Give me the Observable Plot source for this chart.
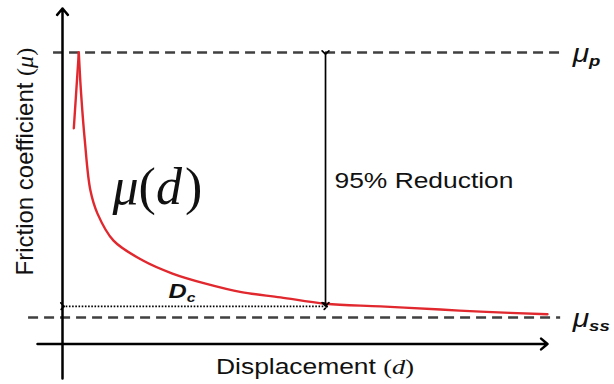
<!DOCTYPE html>
<html>
<head>
<meta charset="utf-8">
<script src="https://cdn.jsdelivr.net/npm/d3@7"></script>
<script src="https://cdn.jsdelivr.net/npm/@observablehq/plot@0.6"></script>
<style>
  body { margin: 0; background: #fff; }
  #chart svg { display: block; }
</style>
</head>
<body>
<div id="chart"></div>
<script>
// Friction levels: peak (μp) and steady state (μss)
const levelNames = ["μp", "μss"];
const levelMu = [0.8, 0.3];
const levelStartD = [-0.034, -0.129];
const levelEndD = 1.894;

// Weakening: 95% of the drop from μp to μss is reached at d = Dc
const reduction = 0.95;
const dc = 1.0;
const muAtDc = levelMu[0] - reduction * (levelMu[0] - levelMu[1]);
const dcLineMu = 0.321;

// Axis extents (displacement d, friction μ)
const axisBaseMu = 0.25;
const axisStartD = -0.095;
const axisEndD = 1.844;
const axisBottomMu = 0.185;
const axisTopMu = 0.883;

// Friction curve: short strengthening ramp, then slip weakening
const rampD = [0.043, 0.062];
const rampMu = [0.657, 0.8];
const decayD = [0.062, 0.070, 0.0848, 0.106, 0.133, 0.194, 0.304, 0.418, 0.544, 0.68, 0.829, 1.0, 1.209, 1.437, 1.589, 1.844];
const decayMu = [0.8, 0.728, 0.634, 0.540, 0.496, 0.445, 0.408, 0.383, 0.364, 0.348, 0.338, 0.326, 0.321, 0.315, 0.311, 0.306];

// Labels
const yLabel = "Friction coefficient (μ)";
const xLabel = "Displacement (d)";
const curveLabel = "μ(d)";
const reductionLabel = `${Math.round(reduction * 100)}% Reduction`;
const dcLabel = "Dc";

const sans = "'Liberation Sans', Arial, sans-serif";
const serif = "'Liberation Serif', 'Times New Roman', serif";

const axes = [
  {x1: axisStartD, y1: axisBaseMu, x2: axisEndD, y2: axisBaseMu},
  {x1: 0, y1: axisBottomMu, x2: 0, y2: axisTopMu}
];

const svg = Plot.plot({
  width: 614,
  height: 384,
  marginLeft: 62,
  marginRight: 67,
  marginTop: 52,
  marginBottom: 40.5,
  x: {domain: [0, axisEndD], axis: null},
  y: {domain: [axisBaseMu, levelMu[0]], axis: null},
  style: {background: "#fff", overflow: "visible"},
  marks: [
    // dashed reference levels
    Plot.ruleY(levelMu, {y: levelMu, x1: levelStartD, x2: levelEndD, stroke: "#404040", strokeWidth: 2.5, strokeDasharray: "10,6"}),
    // axes with arrowheads
    Plot.arrow(axes, {x1: "x1", y1: "y1", x2: "x2", y2: "y2", stroke: "#000", strokeWidth: 2.5, headLength: 5, headAngle: 80}),
    // friction curve
    Plot.line(rampD, {x: rampD, y: rampMu, stroke: "#e0282e", strokeWidth: 2.4}),
    Plot.line(decayD, {x: decayD, y: decayMu, curve: "catmull-rom", stroke: "#e0282e", strokeWidth: 2.4}),
    // 95% reduction arrow
    Plot.link([dc], {x1: dc, x2: dc, y1: levelMu[0], y2: muAtDc, stroke: "#000", strokeWidth: 1.7, markerStart: "arrow", markerEnd: "arrow"}),
    // Dc span
    Plot.link([dc], {x1: 0, x2: dc, y1: dcLineMu, y2: dcLineMu, stroke: "#000", strokeWidth: 1.7, strokeDasharray: "1.6,1.6", markerStart: "arrow", markerEnd: "arrow"}),
    // text
    Plot.text([reductionLabel], {x: dc, y: (levelMu[0] + muAtDc) / 2, text: d => d, dx: 9, dy: 3, textAnchor: "start", fontFamily: sans, fontSize: 22, fill: "#111"}),
    Plot.text([xLabel], {x: 0.96, y: axisBaseMu, text: d => d, dy: 23, textAnchor: "middle", fontFamily: sans, fontSize: 22, fill: "#111"}),
    Plot.text([yLabel], {x: -0.142, y: 0.594, text: d => d, rotate: -90, textAnchor: "middle", fontFamily: sans, fontSize: 24, fill: "#111"}),
    Plot.text([curveLabel], {x: 0.19, y: 0.546, text: d => d, textAnchor: "start", fontFamily: serif, fontSize: 52, fill: "#111"}),
    Plot.text([dcLabel], {x: dc / 2, y: dcLineMu, text: d => d, dx: -12, dy: -15, textAnchor: "middle", fontFamily: sans, fontSize: 21, fontStyle: "italic", fontWeight: "bold", fill: "#111"}),
    Plot.text(levelNames, {x: levelEndD, y: levelMu, text: levelNames, dx: 12, dy: 1, textAnchor: "start", fontFamily: sans, fontSize: 25, fontStyle: "italic", fill: "#111"})
  ]
});

const root = d3.select(svg);
const textsOf = (labels) => root.selectAll("text").filter(function() { return labels.includes(this.textContent); });

// captions are set slightly wide
textsOf([reductionLabel, xLabel, dcLabel, ...levelNames])
  .attr("transform", function() { return (this.getAttribute("transform") || "") + " scale(1.2,1)"; });

// first character as base symbol, rest as subscript
textsOf([dcLabel, ...levelNames]).each(function() {
  const t = d3.select(this);
  const s = this.textContent;
  t.text(null);
  t.append("tspan").text(s[0]);
  t.append("tspan").attr("font-size", "0.62em").attr("font-weight", "bold").attr("dy", "0.3em").text(s.slice(1));
});

// symbol inside parentheses set in serif italic
textsOf([yLabel, xLabel]).each(function() {
  const t = d3.select(this);
  const m = this.textContent.match(/^(.*)\((.+)\)$/);
  if (!m) return;
  t.text(null);
  t.append("tspan").text(m[1]);
  t.append("tspan").attr("font-family", serif).text("(");
  t.append("tspan").attr("font-family", serif).attr("font-style", "italic").text(m[2]);
  t.append("tspan").attr("font-family", serif).text(")");
});

// μ(d): italic symbols, upright parentheses
textsOf([curveLabel]).each(function() {
  const t = d3.select(this);
  const parts = this.textContent.match(/^(.)\((.)\)$/);
  t.text(null);
  t.append("tspan").attr("font-style", "italic").text(parts[1]);
  t.append("tspan").text("(");
  t.append("tspan").attr("font-style", "italic").text(parts[2]);
  t.append("tspan").attr("dx", "0.06em").text(")");
});

document.getElementById("chart").append(svg);
</script>
</body>
</html>
